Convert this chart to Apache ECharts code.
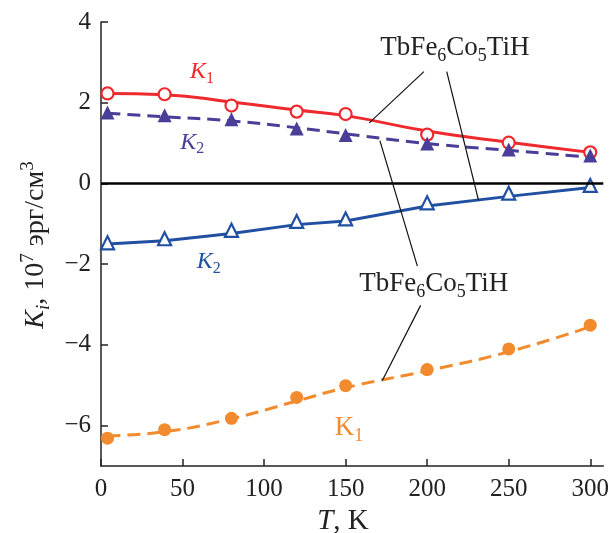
<!DOCTYPE html>
<html>
<head>
<meta charset="utf-8">
<script src="https://cdn.jsdelivr.net/npm/echarts@6/dist/echarts.min.js"></script>
<style>
  html, body { margin: 0; padding: 0; background: #fff; }
  #chart { width: 612px; height: 533px; }
</style>
</head>
<body>
<div id="chart"></div>
<script>
// ---- данные ----
const temps = [4, 39, 80, 120, 150, 200, 250, 300];

// TbFe6Co5TiH: K1 > 0 (красный), K2 > 0 (фиолетовый пунктир)
const k1Pos = [2.23, 2.21, 1.93, 1.78, 1.72, 1.21, 1.01, 0.77];
const k1PosFit = [2.23, 2.2, 2.02, 1.82, 1.68, 1.3, 1.02, 0.77];
const k2Pos = [1.76, 1.69, 1.59, 1.36, 1.2, 0.99, 0.84, 0.69];
const k2PosFit = [1.74, 1.65, 1.55, 1.38, 1.23, 0.99, 0.82, 0.65];

// TbFe6Co5TiH: K2 < 0 (синий), K1 < 0 (оранжевый пунктир)
const k2Neg = [-1.47, -1.37, -1.16, -0.94, -0.88, -0.48, -0.24, -0.05];
const k2NegFit = [-1.5, -1.42, -1.24, -1.02, -0.93, -0.56, -0.32, -0.1];
const k1Neg = [-6.31, -6.1, -5.82, -5.3, -5.01, -4.61, -4.1, -3.51];
const k1NegFit = [-6.25, -6.15, -5.83, -5.39, -5.06, -4.64, -4.17, -3.55];

const xTicks = [0, 50, 100, 150, 200, 250, 300];
const yTicks = [-6, -4, -2, 0, 2, 4];

const RED = '#ee2a2e', PURPLE = '#4a3f98', BLUE = '#2150a2', ORANGE = '#f28a2e';
const FONT = '"Liberation Serif", "DejaVu Serif", serif';

const pairs = ys => temps.map((t, i) => [t, ys[i]]);

function lineSeries(ys, color, dashed, smooth) {
  return {
    type: 'line', data: pairs(ys), showSymbol: false, symbol: 'none', smooth: smooth,
    lineStyle: { color: color, width: 3, type: dashed ? [13, 7] : 'solid' },
    z: 3, silent: true
  };
}
function markerSeries(ys, symbol, color, filled, size) {
  return {
    type: 'scatter', data: pairs(ys), symbol: symbol, symbolSize: size,
    itemStyle: { color: filled ? color : '#fff', borderColor: color, borderWidth: filled ? 0 : 2.2, opacity: 1 },
    z: 4, silent: true
  };
}

const chart = echarts.init(document.getElementById('chart'), null, { renderer: 'canvas' });

const axisCommon = {
  type: 'value',
  axisLine: { show: true, onZero: false, lineStyle: { color: '#222', width: 1.5 } },
  axisTick: { show: true, inside: true, length: 7, lineStyle: { color: '#222', width: 1.5 } },
  splitLine: { show: false },
  axisLabel: { color: '#222', fontFamily: FONT, fontSize: 25 }
};

chart.setOption({
  animation: false,
  grid: { left: 101, right: 7, top: 22, bottom: 67 },
  xAxis: Object.assign({}, axisCommon, {
    min: 0, max: 308,
    axisTick: Object.assign({}, axisCommon.axisTick, { customValues: xTicks }),
    axisLabel: Object.assign({}, axisCommon.axisLabel, { customValues: xTicks, margin: 11 })
  }),
  yAxis: Object.assign({}, axisCommon, {
    min: -7, max: 4,
    axisTick: Object.assign({}, axisCommon.axisTick, { customValues: yTicks }),
    axisLabel: Object.assign({}, axisCommon.axisLabel, {
      customValues: yTicks, margin: 10,
      formatter: v => String(v).replace('-', '\u2212')
    })
  }),
  series: [
    Object.assign(lineSeries(k1PosFit, RED, false, true), {
      markLine: {
        silent: true, symbol: 'none', label: { show: false },
        lineStyle: { color: '#000', width: 2.5, type: 'solid' },
        data: [{ yAxis: 0 }]
      }
    }),
    lineSeries(k2PosFit, PURPLE, true, true),
    lineSeries(k2NegFit, BLUE, false, false),
    lineSeries(k1NegFit, ORANGE, true, true),
    markerSeries(k1Pos, 'circle', RED, false, 12),
    markerSeries(k2Pos, 'triangle', PURPLE, true, 14),
    markerSeries(k2Neg, 'triangle', BLUE, false, 13),
    markerSeries(k1Neg, 'circle', ORANGE, true, 13)
  ]
});

// ---- подписи и выноски (в координатах данных) ----
const formula = '{b|TbFe}{s|6}{b|Co}{s|5}{b|TiH}';
const texts = [
  { at: [217, 3.36], text: formula, color: '#222', italic: false, size: 27 },
  { at: [204, -2.5], text: formula, color: '#222', italic: false, size: 27 },
  { at: [62, 2.77], text: '{b|K}{s|1}', color: RED, italic: true, size: 24 },
  { at: [56, 1.02], text: '{b|K}{s|2}', color: PURPLE, italic: true, size: 24 },
  { at: [66, -1.93], text: '{b|K}{s|2}', color: BLUE, italic: true, size: 24 },
  { at: [152, -6.06], text: '{b|K}{s|1}', color: ORANGE, italic: false, size: 27 }
];
const leaders = [
  [[198, 2.77], [164.5, 1.5]],
  [[212, 2.77], [231.5, -0.42]],
  [[171, 1.06], [194, -2.05]],
  [[196, -3.02], [172.5, -4.88]]
];

function richFor(color, italic, size) {
  const sub = Math.round(size * 0.68);
  const lh = Math.round(size * 1.25);
  const slh = Math.round(size * 0.6);
  return {
    b: { fontFamily: FONT, fontSize: size, lineHeight: lh, fill: color, fontStyle: italic ? 'italic' : 'normal' },
    s: { fontFamily: FONT, fontSize: sub, lineHeight: slh, fill: color, verticalAlign: 'bottom', fontStyle: 'normal' },
    p: { fontFamily: FONT, fontSize: sub, lineHeight: slh, fill: color, verticalAlign: 'top', fontStyle: 'normal' },
    bi: { fontFamily: FONT, fontSize: sub, lineHeight: slh, fill: color, verticalAlign: 'bottom', fontStyle: 'italic' },
    n: { fontFamily: FONT, fontSize: size, lineHeight: lh, fill: color, fontStyle: 'normal' }
  };
}

const px = p => chart.convertToPixel({ gridIndex: 0 }, p);
const graphics = [];
texts.forEach(t => {
  const p = px(t.at);
  graphics.push({
    type: 'text', x: p[0], y: p[1], silent: true, z: 10,
    style: { text: t.text, rich: richFor(t.color, t.italic, t.size), align: 'center', verticalAlign: 'middle' }
  });
});
leaders.forEach(l => {
  const a = px(l[0]), b = px(l[1]);
  graphics.push({
    type: 'line', silent: true, z: 9,
    shape: { x1: a[0], y1: a[1], x2: b[0], y2: b[1] },
    style: { stroke: '#111', lineWidth: 1.2 }
  });
});
// названия осей
graphics.push({
  type: 'text', x: 36, y: 245, rotation: Math.PI / 2, silent: true,
  style: {
    text: '{b|K}{bi|i}{n|, 10}{p|7}{n| эрг/см}{p|3}',
    rich: richFor('#222', true, 28), align: 'center', verticalAlign: 'middle'
  }
});
graphics.push({
  type: 'text', x: 343, y: 521, silent: true,
  style: { text: '{b|T}{n|, K}', rich: richFor('#222', true, 29), align: 'center', verticalAlign: 'middle' }
});

chart.setOption({ graphic: graphics });
</script>
</body>
</html>
